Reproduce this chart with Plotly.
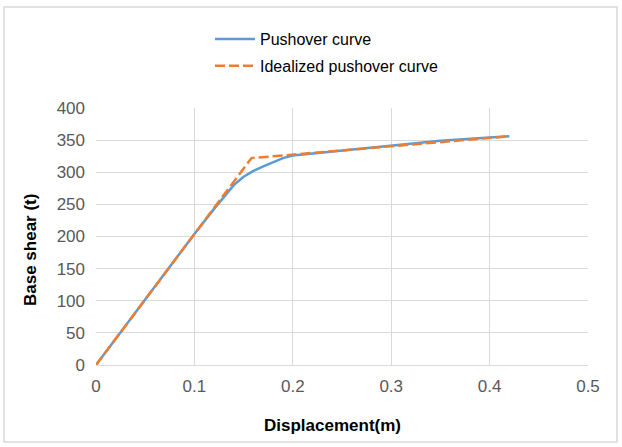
import plotly.graph_objects as go

# Pushover curve (blue)
push_x = [0, 0.02, 0.05, 0.08, 0.10, 0.12, 0.13, 0.14, 0.15, 0.16, 0.17, 0.18, 0.19, 0.20, 0.25, 0.30, 0.35, 0.40, 0.42]
push_y = [0, 41, 102, 163, 204, 243, 262, 280, 293, 302, 309, 316, 322, 326, 334, 342, 349, 354, 356]

# Idealized (bilinear) pushover curve (orange)
ideal_x = [0, 0.158, 0.42]
ideal_y = [0, 322, 356]

x_ticks = [0, 0.1, 0.2, 0.3, 0.4, 0.5]
x_labels = ["0", "0.1", "0.2", "0.3", "0.4", "0.5"]
y_ticks = [0, 50, 100, 150, 200, 250, 300, 350, 400]

fig = go.Figure()
fig.add_trace(go.Scatter(x=push_x, y=push_y, mode="lines", name="Pushover curve",
                         line=dict(color="#5B9BD5", width=2.5), legendgroup="a"))
fig.add_trace(go.Scatter(x=ideal_x, y=ideal_y, mode="lines", name="Idealized pushover curve",
                         line=dict(color="#ED7D31", width=2.5, dash="10px,4px"), legendgroup="b"))

grid = "#d9d9d9"
L, R, T, B = 96, 34, 108, 82
PW, PH = 622 - L - R, 447 - T - B
fig.update_layout(
    width=622, height=447,
    margin=dict(l=L, r=R, t=T, b=B, autoexpand=False),
    paper_bgcolor="white", plot_bgcolor="white",
    font=dict(family="Liberation Sans, Arial, sans-serif", size=14, color="#595959"),
    showlegend=True,
    legend=dict(x=(210 - L) / PW, y=(365 - 22) / PH, xanchor="left", yanchor="top",
                font=dict(size=16, color="#000000"), bgcolor="rgba(0,0,0,0)",
                traceorder="grouped", tracegroupgap=3, itemwidth=40),
    xaxis=dict(range=[0, 0.5], tickvals=x_ticks, ticktext=x_labels,
               showgrid=True, gridcolor=grid, gridwidth=1, zeroline=False,
               showline=True, linecolor=grid, linewidth=1, mirror=False,
               ticks="", ticklabelstandoff=6, automargin=False,
               tickfont=dict(size=17, color="#595959")),
    yaxis=dict(range=[0, 400], tickvals=y_ticks,
               showgrid=True, gridcolor=grid, gridwidth=1, zeroline=False,
               showline=False, ticks="", ticklabelstandoff=10, automargin=False,
               tickfont=dict(size=17, color="#595959")),
    annotations=[
        dict(text="<b>Displacement(m)</b>", xref="paper", yref="paper",
             x=0.5 * (265 + 400 - 2 * L) / PW, y=(365 - 425) / PH,
             xanchor="center", yanchor="middle", showarrow=False,
             font=dict(size=17, color="#000000")),
        dict(text="<b>Base shear (t)</b>", xref="paper", yref="paper",
             x=(30 - L) / PW, y=(365 - 250) / PH, textangle=-90,
             xanchor="center", yanchor="middle", showarrow=False,
             font=dict(size=17, color="#000000")),
    ],
    shapes=[dict(type="rect", xref="paper", yref="paper",
                 x0=(4 - L) / PW, x1=(617 - L) / PW,
                 y0=(365 - 442) / PH, y1=(365 - 7) / PH,
                 line=dict(color="#d9d9d9", width=1.5), fillcolor="rgba(0,0,0,0)", layer="below")],
)

fig.write_html("out.html", config={"displayModeBar": False},
               post_script="document.body.style.margin='0';document.body.style.overflow='hidden';")
